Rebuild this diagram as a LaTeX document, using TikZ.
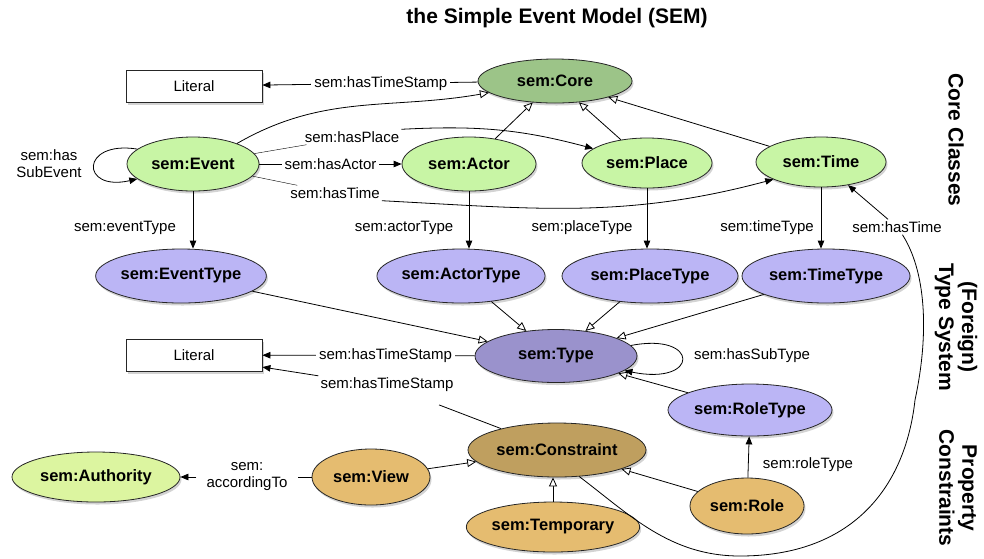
\documentclass[tikz,border=0pt]{standalone}
\usepackage{fontspec}
\setmainfont{Liberation Sans}
\usetikzlibrary{shapes.geometric, arrows.meta, shadows}
\definecolor{coregreen}{RGB}{156,196,136}
\definecolor{classgreen}{RGB}{200,245,165}
\definecolor{authgreen}{RGB}{220,245,160}
\definecolor{typeviolet}{RGB}{187,181,245}
\definecolor{basetype}{RGB}{154,146,204}
\definecolor{constrbrown}{RGB}{191,159,95}
\definecolor{constrorange}{RGB}{229,188,112}
\tikzstyle{every node}=[font=\fontsize{15}{17}\selectfont]
\tikzset{ClassStyle/.style = {
			shape          = ellipse,
			draw           = black!85,
			fill           = classgreen,
			text           = black,
			font           = \fontsize{16.5}{18}\selectfont\bfseries,
			inner sep      = 0pt,
			line width     = .8pt,
			drop shadow    = {shadow xshift=1.5pt, shadow yshift=-2.5pt, opacity=.35}}
			}
\tikzset{LiteralStyle/.style = {
			shape          = rectangle,
			draw           = black!85,
			fill           = white,
			line width     = .8pt,
			minimum width  = 136pt,
			minimum height = 32pt,
			drop shadow    = {shadow xshift=1.5pt, shadow yshift=-2.5pt, opacity=.35}}
			}
\tikzset{LabelStyle/.style = {inner sep = 2pt},
		 CutLabelStyle/.style = {fill = white, inner sep = 3pt},
		 SideStyle/.style = {font = \fontsize{21}{23}\selectfont\bfseries, rotate = -90, align = center},
		 has/.style = {line width = .8pt, -{Triangle[length=8pt,width=6.5pt]}},
		 isa/.style = {line width = .8pt, -{Triangle[open,length=9pt,width=8pt,fill=white]}}
		}

\begin{document}
\begin{tikzpicture}[x=1pt,y=-1pt]
							\useasboundingbox (0,0) rectangle (984,558);
							\draw (557,18) node[font=\fontsize{21}{23}\selectfont\bfseries] (title) {the Simple Event Model (SEM)};

							\draw (956,140) node[SideStyle] (sideCore) {Core Classes};
							\draw (956,327) node[SideStyle] (sideType) {(Foreign)\\Type System};
							\draw (958,488) node[SideStyle] (sideConstr) {Property\\Constraints};

							\draw (194,86) node[LiteralStyle] (Lit1) {Literal};
							\draw (555,81) node[ClassStyle, fill=coregreen, minimum width=154pt, minimum height=44pt] (Core) {sem:Core};

							\draw (193,164) node[ClassStyle, minimum width=132pt, minimum height=54pt] (Event) {sem:Event};
							\draw (469,164) node[ClassStyle, minimum width=134pt, minimum height=54pt] (Actor) {sem:Actor};
							\draw (647,163) node[ClassStyle, minimum width=130pt, minimum height=50pt] (Place) {sem:Place};
							\draw (821,162) node[ClassStyle, minimum width=130pt, minimum height=50pt] (Time) {sem:Time};

							\draw (181,276) node[ClassStyle, fill=typeviolet, minimum width=156pt, minimum height=54pt] (EventType) {sem:EventType};
							\draw (461,276) node[ClassStyle, fill=typeviolet, minimum width=162pt, minimum height=54pt] (ActorType) {sem:ActorType};
							\draw (650,276) node[ClassStyle, fill=typeviolet, minimum width=176pt, minimum height=54pt] (PlaceType) {sem:PlaceType};
							\draw (826,276) node[ClassStyle, fill=typeviolet, minimum width=168pt, minimum height=54pt] (TimeType) {sem:TimeType};

							\draw (194,355) node[LiteralStyle] (Lit2) {Literal};
							\draw (556,356) node[ClassStyle, fill=basetype, minimum width=162pt, minimum height=53pt] (Type) {sem:Type};
							\draw (750,410) node[ClassStyle, fill=typeviolet, minimum width=164pt, minimum height=52pt] (RoleType) {sem:RoleType};

							\draw (557,450) node[ClassStyle, fill=constrbrown, minimum width=178pt, minimum height=54pt] (Constraint) {sem:Constraint};
							\draw (96,477) node[ClassStyle, fill=authgreen, minimum width=168pt, minimum height=50pt] (Authority) {sem:Authority};
							\draw (371,477) node[ClassStyle, fill=constrorange, minimum width=118pt, minimum height=56pt] (View) {sem:View};
							\draw (553,527) node[ClassStyle, fill=constrorange, minimum width=164pt, minimum height=50pt] (Temporary) {sem:Temporary};
							\draw (747,506) node[ClassStyle, fill=constrorange, minimum width=114pt, minimum height=56pt] (Role) {sem:Role};

							% free labels
							\draw (352,137) node[LabelStyle] (lPlace) {sem:hasPlace};
							\draw (335,193) node[LabelStyle] (lTime) {sem:hasTime};
							\draw (49,164) node[LabelStyle, align=center] (lSubEvent) {sem:has\\SubEvent};
							\draw (125,228) node[LabelStyle] (lEventType) {sem:eventType};
							\draw (404,228) node[LabelStyle] (lActorType) {sem:actorType};
							\draw (582,228) node[LabelStyle] (lPlaceType) {sem:placeType};
							\draw (767,228) node[LabelStyle] (lTimeType) {sem:timeType};
							\draw (897,227) node[LabelStyle] (lTime2) {sem:hasTime};
							\draw (752,356) node[LabelStyle] (lSubType) {sem:hasSubType};
							\draw (387,385) node[LabelStyle] (lStamp2) {sem:hasTimeStamp};
							\draw (808,465) node[LabelStyle] (lRoleType) {sem:roleType};
							\draw (247,477) node[LabelStyle, align=center, inner xsep=10pt] (lAccording) {sem:\\accordingTo};

							% core classes
							\draw[has]    (Core) -- node[CutLabelStyle, pos=0.45] {sem:hasTimeStamp} (Lit1);
							\draw[isa]    (Event.25) to[out=30,in=190] (Core.190);
							\draw[isa]    (Actor) -- (Core);
							\draw[isa]    (Place) -- (Core);
							\draw[isa]    (Time) -- (Core);

							\draw[has]    (Event.165) .. controls (80,140) and (80,192) .. (Event.195);
							\draw[has]    (Event) -- node[CutLabelStyle] {sem:hasActor} (Actor);
							\draw         (Event) -- (lPlace);
							\draw[has]    (lPlace.north east) to[out=3,in=165] (Place.165);
							\draw         (Event) -- (lTime);
							\draw[has]    (lTime.south east) to[out=-3,in=195] (Time.200);

							% types
							\draw[has]    (Event) -- (Event |- EventType.north);
							\draw[has]    (Actor) -- (Actor |- ActorType.north);
							\draw[has]    (Place) -- (Place |- PlaceType.north);
							\draw[has]    (Time) -- (Time |- TimeType.north);

							\draw[isa]    (EventType) -- (Type);
							\draw[isa]    (ActorType) -- (Type);
							\draw[isa]    (PlaceType) -- (Type);
							\draw[isa]    (TimeType) -- (Type);
							\draw[isa]    (RoleType) -- (Type);

							\draw[has]    (Type) -- node[CutLabelStyle, pos=0.42] {sem:hasTimeStamp} (Lit2);
							\draw[has]    (Type.8) .. controls (700,332) and (700,386) .. (Type.-12);

							% constraints
							\draw[shorten >=30pt, line width=.8pt] (Constraint) -- (lStamp2);
							\draw[has]    (lStamp2.north west) -- (Lit2.-10);
							\draw[isa]    (View) -- (Constraint);
							\draw[isa]    (Role) -- (Constraint);
							\draw[isa]    (Temporary) -- (Temporary |- Constraint.south);
							\draw[has]    (Role) -- (RoleType);
							\draw[line width=.8pt] (View) -- (lAccording);
							\draw[has]    (lAccording) -- (Authority);

							\draw[line width=.8pt] (Constraint.-50) .. controls (630,515) and (670,556) .. (740,556)
							      .. controls (850,556) and (905,490) .. (915,400)
							      .. controls (930,330) and (925,270) .. (lTime2.-55);
							\draw[has]    (lTime2) -- (Time);

\end{tikzpicture}
\end{document}
